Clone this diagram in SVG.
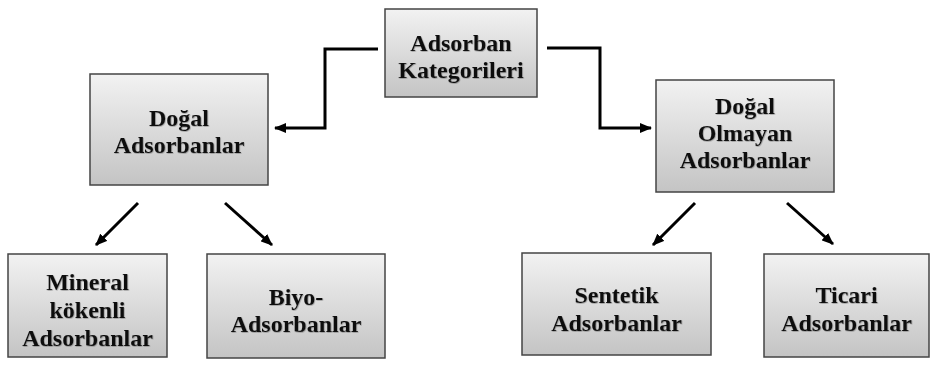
<svg xmlns="http://www.w3.org/2000/svg" width="931" height="368" viewBox="0 0 931 368">
<defs>
<linearGradient id="g" x1="0" y1="0" x2="0" y2="1">
<stop offset="0" stop-color="#f2f2f2"/>
<stop offset="1" stop-color="#c4c4c4"/>
</linearGradient>
<filter id="ts" x="-10%" y="-20%" width="120%" height="140%">
<feDropShadow dx="0.6" dy="0.6" stdDeviation="0.7" flood-color="#555" flood-opacity="0.6"/>
</filter>
<marker id="ah" markerWidth="12" markerHeight="10" refX="11" refY="5" orient="auto" markerUnits="userSpaceOnUse">
<path d="M0,0 L12,5 L0,10 Z" fill="#000"/>
</marker>
</defs>
<style>
.box{fill:url(#g);stroke:#444;stroke-width:1.5}
.t{font-family:'Liberation Serif','Times New Roman','DejaVu Serif',serif;font-weight:700;font-size:24px;fill:#111;text-anchor:middle}
.c{fill:none;stroke:#000;stroke-width:3;marker-end:url(#ah)}
</style>
<g id="connectors">
<path class="c" d="M378,49 H325 V128 H275"/>
<path class="c" d="M547,48 H600 V128 H651"/>
<path class="c" d="M138,203 L96,245"/>
<path class="c" d="M225,203 L272,245"/>
<path class="c" d="M695,203 L653,245"/>
<path class="c" d="M787,203 L833,244"/>
</g>
<g id="n-root">
<rect class="box" x="385" y="9" width="152" height="88"/>
<text class="t" filter="url(#ts)" x="461" y="51">Adsorban</text>
<text class="t" filter="url(#ts)" x="461" y="78">Kategorileri</text>
</g>
<g id="n-dogal">
<rect class="box" x="90" y="74" width="178" height="111"/>
<text class="t" filter="url(#ts)" x="179" y="126">Doğal</text>
<text class="t" filter="url(#ts)" x="179" y="153">Adsorbanlar</text>
</g>
<g id="n-dogal-olmayan">
<rect class="box" x="656" y="80" width="178" height="112"/>
<text class="t" filter="url(#ts)" x="745" y="114">Doğal</text>
<text class="t" filter="url(#ts)" x="745" y="141">Olmayan</text>
<text class="t" filter="url(#ts)" x="745" y="168">Adsorbanlar</text>
</g>
<g id="n-mineral">
<rect class="box" x="8" y="254" width="159" height="103"/>
<text class="t" filter="url(#ts)" x="87.5" y="290">Mineral</text>
<text class="t" filter="url(#ts)" x="87.5" y="318">kökenli</text>
<text class="t" filter="url(#ts)" x="87.5" y="346">Adsorbanlar</text>
</g>
<g id="n-biyo">
<rect class="box" x="207" y="254" width="178" height="104"/>
<text class="t" filter="url(#ts)" x="296" y="305">Biyo-</text>
<text class="t" filter="url(#ts)" x="296" y="332">Adsorbanlar</text>
</g>
<g id="n-sentetik">
<rect class="box" x="522" y="253" width="189" height="102"/>
<text class="t" filter="url(#ts)" x="616.5" y="303">Sentetik</text>
<text class="t" filter="url(#ts)" x="616.5" y="331">Adsorbanlar</text>
</g>
<g id="n-ticari">
<rect class="box" x="764" y="254" width="165" height="103"/>
<text class="t" filter="url(#ts)" x="846.5" y="303">Ticari</text>
<text class="t" filter="url(#ts)" x="846.5" y="331">Adsorbanlar</text>
</g>
</svg>
